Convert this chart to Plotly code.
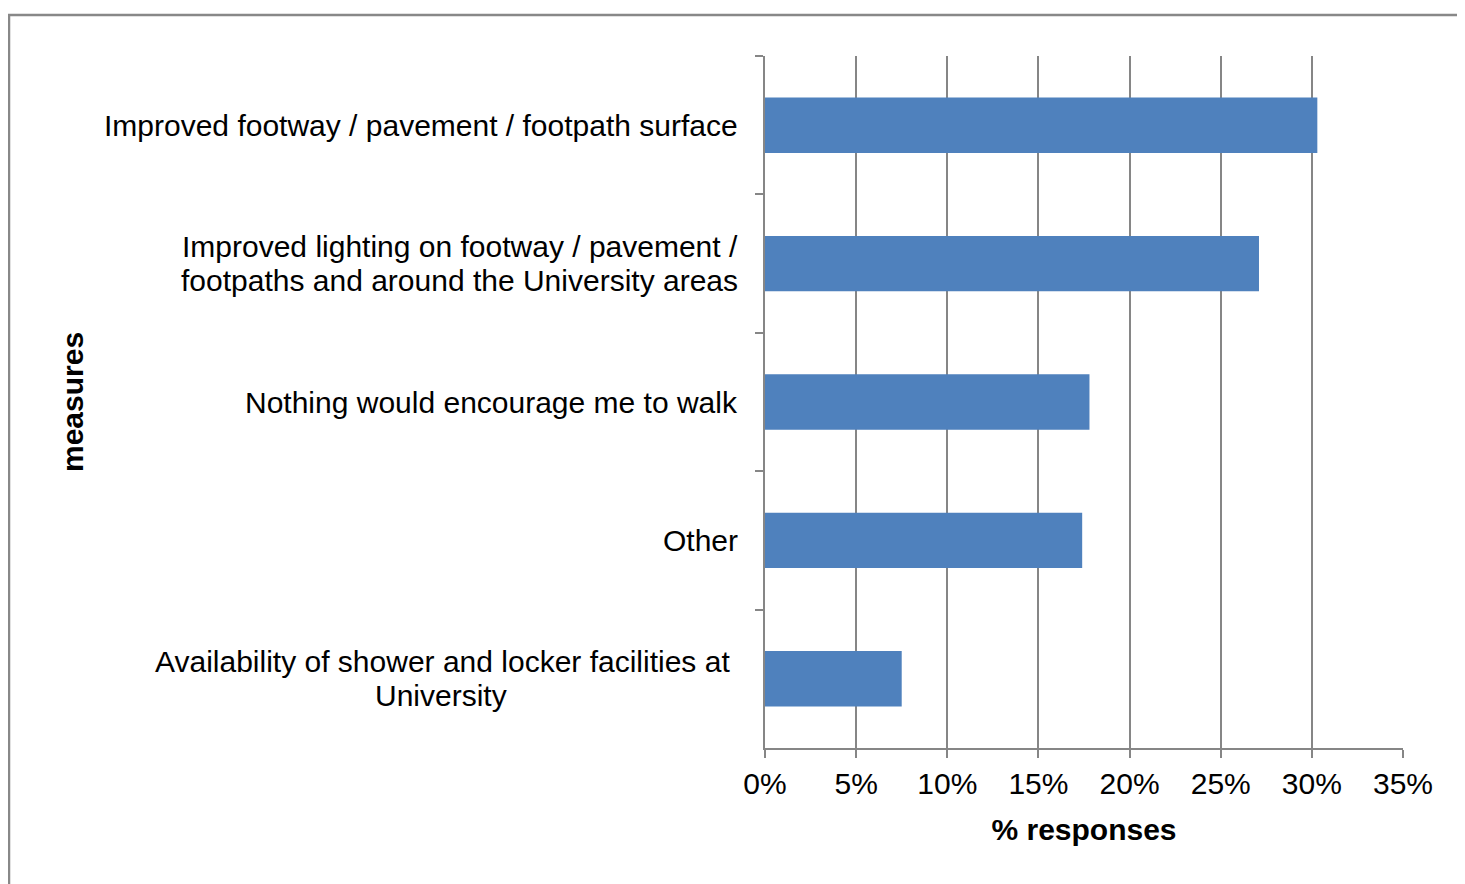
import plotly.graph_objects as go

categories = [
    "Improved footway / pavement / footpath surface",
    "Improved lighting on footway / pavement /<br>footpaths and around the University areas",
    "Nothing would encourage me to walk",
    "Other",
    "Availability of shower and locker facilities at<br>University",
]
values = [0.303, 0.271, 0.178, 0.174, 0.075]
x_ticks = [0, 0.05, 0.10, 0.15, 0.20, 0.25, 0.30, 0.35]
x_title = "% responses"
y_title = "measures"

FONT = "Liberation Sans, Arial, sans-serif"
GRID = "#868686"
FS = 30
PAGE_OFF = 8  # default body margin of the html page
# target plot area on the page
PX0, PX1, PY0, PY1 = 765, 1403, 56, 748
W, H = 1465 - PAGE_OFF, 884 - PAGE_OFF
L, T = PX0 - PAGE_OFF, PY0 - PAGE_OFF
R, B = W - (PX1 - PAGE_OFF), H - (PY1 - PAGE_OFF)
pw, ph = PX1 - PX0, PY1 - PY0


def px_x(px):
    return (px - PX0) / pw


def px_y(py):
    return (PY1 - py) / ph


fig = go.Figure()
fig.add_trace(go.Bar(
    x=values, y=categories, orientation="h",
    marker=dict(color="#4F81BD", line=dict(width=0)),
    hoverinfo="x+y",
))

LINE_H = 34
annotations = []
last = len(categories) - 1
for i, c in enumerate(categories):
    lines = c.split("<br>")
    n = len(lines)
    for j, ln in enumerate(lines):
        yshift = ((n - 1) / 2 - j) * LINE_H
        if i == last and j > 0:
            # centred under the first line (Excel-style centred wrap)
            xanchor, xshift = "center", -324
        elif i == last:
            xanchor, xshift = "right", -33
        else:
            xanchor, xshift = "right", -25
        annotations.append(dict(
            x=0, y=c, xref="x", yref="y", text=ln, showarrow=False,
            xanchor=xanchor, yanchor="middle", xshift=xshift, yshift=yshift,
            font=dict(family=FONT, size=FS, color="black"),
        ))
annotations.append(dict(
    x=px_x(72), y=px_y(402), xref="paper", yref="paper", text="<b>" + y_title + "</b>",
    showarrow=False, textangle=-90, xanchor="center", yanchor="middle",
    font=dict(family=FONT, size=FS, color="black"),
))

fig.update_layout(
    width=W, height=H,
    margin=dict(l=L, r=R, t=T, b=B, autoexpand=False),
    paper_bgcolor="white", plot_bgcolor="white",
    bargap=0.6, showlegend=False,
    font=dict(family=FONT, size=FS, color="black"),
    annotations=annotations,
    shapes=[dict(
        type="rect", xref="paper", yref="paper",
        x0=px_x(9), x1=px_x(1490),
        y0=px_y(910), y1=px_y(15),
        line=dict(color="#888888", width=2.5), fillcolor="rgba(0,0,0,0)", layer="below",
    )],
    xaxis=dict(
        range=[0, 0.35], tickvals=x_ticks, tickformat=".0%",
        showgrid=True, gridcolor=GRID, gridwidth=2,
        showline=True, linecolor=GRID, linewidth=2,
        ticks="outside", ticklen=8, tickwidth=2, tickcolor=GRID,
        tickfont=dict(family=FONT, size=FS, color="black"),
        zeroline=False, automargin=False,
        title=dict(text="<b>" + x_title + "</b>", standoff=20,
                   font=dict(family=FONT, size=FS, color="black")),
    ),
    yaxis=dict(
        categoryorder="array", categoryarray=categories, autorange="reversed",
        showticklabels=False, showgrid=False,
        showline=True, linecolor=GRID, linewidth=2,
        ticks="outside", ticklen=8, tickwidth=2, tickcolor=GRID,
        tickson="boundaries", zeroline=False, automargin=False,
    ),
)

fig.write_html("out.html")
